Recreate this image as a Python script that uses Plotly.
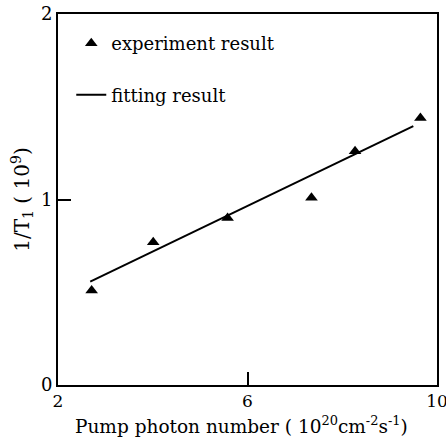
import plotly.graph_objects as go

# Experimental data
exp_x = [2.71, 4.01, 5.58, 7.35, 8.27, 9.65]
exp_y = [0.51, 0.77, 0.90, 1.01, 1.26, 1.44]

# Fitted line end points
fit_x = [2.68, 9.50]
fit_y = [0.557, 1.396]

x_ticks = [2, 6, 10]
y_ticks = [0, 1, 2]

x_title = "Pump photon number ( 10<sup>20</sup>cm<sup>-2</sup>s<sup>-1</sup>)"
y_title = "1/T<sub>1</sub> ( 10<sup>9</sup>)"

FONT = "DejaVu Serif, Liberation Serif, serif"

fig = go.Figure()
fig.add_trace(go.Scatter(
    x=exp_x, y=exp_y, mode="markers", name="experiment result",
    marker=dict(symbol="triangle-up", size=11, color="black"),
    legendgroup="a",
))
fig.add_trace(go.Scatter(
    x=fit_x, y=fit_y, mode="lines", name="fitting result",
    line=dict(color="black", width=2),
    legendgroup="b",
))

fig.update_layout(
    width=446, height=439,
    margin=dict(l=58, r=9, t=14, b=54),
    paper_bgcolor="white", plot_bgcolor="white",
    font=dict(family=FONT, color="black", size=16),
    showlegend=True,
    legend=dict(x=0.035, y=0.97, xanchor="left", yanchor="top",
                bgcolor="rgba(0,0,0,0)", font=dict(size=18, family=FONT),
                tracegroupgap=25, itemwidth=30),
    xaxis=dict(range=[2, 10], tickvals=x_ticks, ticktext=[str(v) for v in x_ticks],
               ticks="inside", ticklen=13, tickwidth=2, tickcolor="black",
               showline=True, linewidth=2, linecolor="black", mirror=True,
               showgrid=False, zeroline=False, automargin=False,
               ticklabeloverflow="allow", ticklabelstandoff=0,
               tickfont=dict(size=17, family=FONT)),
    yaxis=dict(range=[0, 2], tickvals=y_ticks, ticktext=[str(v) for v in y_ticks],
               ticks="inside", ticklen=13, tickwidth=2, tickcolor="black",
               showline=True, linewidth=2, linecolor="black", mirror=True,
               showgrid=False, zeroline=False, automargin=False,
               ticklabelstandoff=0,
               tickfont=dict(size=18, family=FONT),
               title=dict(text=y_title, font=dict(size=20, family=FONT), standoff=6)),
    annotations=[dict(text=x_title, xref="paper", yref="paper", x=0.485, y=-0.107,
                      xanchor="center", yanchor="middle", showarrow=False,
                      font=dict(size=18.5, family=FONT, color="black"))],
)

fig.write_html("out.html", config={"displayModeBar": False},
               post_script="document.body.style.margin='0';")
